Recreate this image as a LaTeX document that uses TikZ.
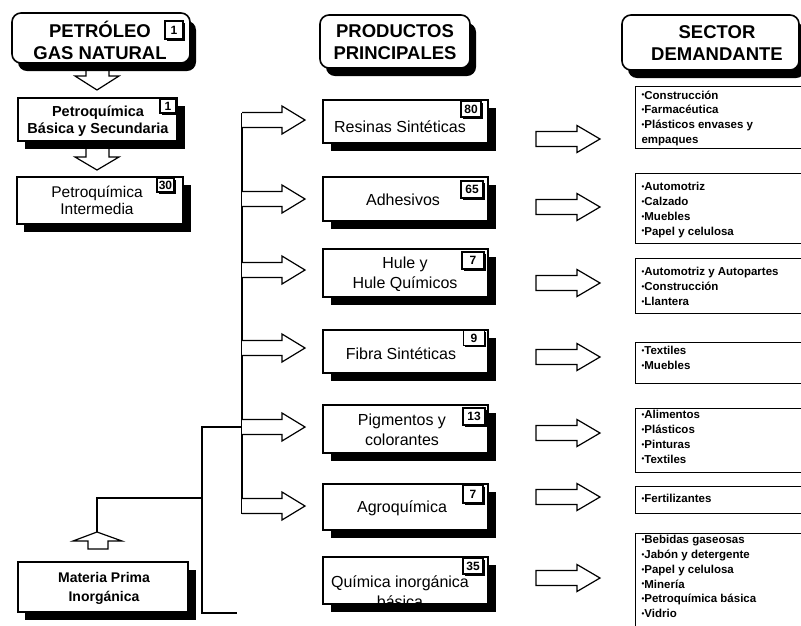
\documentclass[tikz,border=0pt]{standalone}
\usepackage{fontspec}
\setmainfont{Liberation Sans}
\usetikzlibrary{shadows}
% small bullet used in the demand lists
\newcommand\itm{\raisebox{1.2pt}{\fontsize{8}{8}\selectfont •}}
\begin{document}
\begin{tikzpicture}[x=1pt,y=-1pt,line width=1.2pt,
  hdrbox/.style={draw,line width=1.6pt,rounded corners=9pt,fill=white,anchor=north west,
    inner sep=0pt,outer sep=0pt,
    drop shadow={shadow xshift=6pt,shadow yshift=-8pt,opacity=1,fill=black}},
  shbox/.style={draw,line width=1.2pt,fill=white,anchor=north west,inner sep=0pt,outer sep=0pt,
    drop shadow={shadow xshift=8pt,shadow yshift=-8pt,opacity=1,fill=black}},
  lbox/.style={shbox,drop shadow={shadow xshift=7pt,shadow yshift=-8pt,opacity=1,fill=black}},
  pbox/.style={shbox,minimum width=165pt},
  sbox/.style={draw,line width=1.1pt,fill=white,anchor=north west,inner sep=0pt,minimum width=166pt},
  numbox/.style={draw,line width=1.1pt,fill=white,inner sep=0pt,
    font=\bfseries\fontsize{12}{12}\selectfont,
    drop shadow={shadow xshift=1.5pt,shadow yshift=-1.5pt,opacity=1,fill=black}},
  hdrtxt/.style={align=center,inner sep=0pt,font=\bfseries\fontsize{18.5}{22}\selectfont},
  ltxt/.style={align=center,inner sep=0pt,font=\fontsize{15.5}{17}\selectfont},
  ptxt/.style={align=center,inner sep=0pt,font=\fontsize{16}{20}\selectfont},
  stxt/.style={align=left,anchor=north west,inner sep=0pt,font=\bfseries\fontsize{11.5}{14.7}\selectfont},
  blk/.style={draw,fill=white,line width=1.2pt,line join=miter},
  wire/.style={draw,line width=1.2pt}]

\useasboundingbox (0,0) rectangle (801,625);

% ---------- wiring of the product column ----------
\coordinate (mtop) at (242,112.5);
\coordinate (mbot) at (242,513.5);
\coordinate (jin) at (242,427);
\coordinate (ktop) at (202,427);
\coordinate (kmid) at (202,498);
\coordinate (kbot) at (202,613);
\coordinate (kend) at (237,613);
\coordinate (ucorner) at (97,498);
\coordinate (utip) at (97,532);
\draw[wire] (mtop) -- (mbot);
\draw[wire] (jin) -- (ktop) -- (kbot) -- (kend);
\draw[wire] (kmid) -- (ucorner) -- (utip);

% block arrows leaving the main line
\foreach \c in {120,199,270,348,427,506}{
  \draw[blk] (242,\c-7.5) -- (282,\c-7.5) -- (282,\c-14) -- (305,\c)
    -- (282,\c+14) -- (282,\c+7.5) -- (242,\c+7.5);
}
% block arrows toward the demand sectors
\foreach \c in {139,207,283,357,433,497,578}{
  \draw[blk] (536,\c-7.5) -- (577,\c-7.5) -- (577,\c-13.5) -- (600,\c)
    -- (577,\c+13.5) -- (577,\c+7.5) -- (536,\c+7.5) -- cycle;
}
% down arrows of the left column and the up arrow
\draw[blk] (86,64) -- (109,64) -- (109,76) -- (119,76) -- (97,90) -- (75,76) -- (86,76) -- cycle;
\draw[blk] (86,144) -- (109,144) -- (109,157) -- (119,157) -- (97,170) -- (75,157) -- (86,157) -- cycle;
\draw[blk] (97,532) -- (122,541) -- (108,541) -- (108,549) -- (88,549) -- (88,541) -- (73,541) -- cycle;

% ---------- headers ----------
\node[hdrbox,minimum width=178pt,minimum height=50pt] (hpet) at (12,13) {};
\node[hdrtxt] (hpett) at (100,40) {PETRÓLEO\\GAS NATURAL};
\node[numbox,minimum width=18pt,minimum height=18pt] (hpetn) at (174,30) {1};

\node[hdrbox,minimum width=150pt,minimum height=53pt] (hprod) at (320,15) {};
\node[hdrtxt] (hprodt) at (395,42) {PRODUCTOS\\PRINCIPALES};

\node[hdrbox,minimum width=177pt,minimum height=55pt] (hsec) at (622,15) {};
\node[hdrtxt] (hsect) at (717,43) {SECTOR\\DEMANDANTE};

% ---------- left column ----------
\node[lbox,minimum width=159pt,minimum height=43pt] (basica) at (18,98) {};
\node[align=center,inner sep=0pt,font=\bfseries\fontsize{14.5}{17}\selectfont] (basicat) at (98,121) {Petroquímica\\Básica y Secundaria};
\node[numbox,minimum width=16pt,minimum height=14pt] (basican) at (168,106) {1};

\node[lbox,minimum width=166pt,minimum height=47pt] (interm) at (17,177) {};
\node[ltxt] (intermt) at (97,200) {Petroquímica\\Intermedia};
\node[numbox,minimum width=17pt,minimum height=14pt] (intermn) at (165.5,185) {30};

\node[lbox,minimum width=170pt,minimum height=50pt] (mprima) at (18,562) {};
\node[align=center,inner sep=0pt,font=\bfseries\fontsize{14}{19}\selectfont] (mprimat) at (104,588) {Materia Prima\\Inorgánica};

% ---------- products ----------
\node[pbox,minimum height=43pt] (res) at (323,100) {};
\node[ptxt] (rest) at (400,127) {Resinas Sintéticas};
\node[numbox,minimum width=20pt,minimum height=16pt] (resn) at (471,109) {80};

\node[pbox,minimum height=44pt] (adh) at (323,177) {};
\node[ptxt] (adht) at (403,200) {Adhesivos};
\node[numbox,minimum width=22pt,minimum height=17pt] (adhn) at (472,189.5) {65};

\node[pbox,minimum height=48pt] (hule) at (323,249) {};
\node[ptxt] (hulet) at (405,274) {Hule y\\Hule Químicos};
\node[numbox,minimum width=22pt,minimum height=17pt] (hulen) at (473,260.5) {7};

\node[pbox,minimum height=43pt] (fibra) at (323,330) {};
\node[ptxt] (fibrat) at (401,354) {Fibra Sintéticas};
\node[numbox,minimum width=21pt,minimum height=15pt] (fibran) at (474,338) {9};

\node[pbox,minimum height=48pt] (pigm) at (323,405) {};
\node[ptxt] (pigmt) at (402,430) {Pigmentos y\\colorantes};
\node[numbox,minimum width=22pt,minimum height=17pt] (pigmn) at (474,416.5) {13};

\node[pbox,minimum height=46pt] (agro) at (323,484) {};
\node[ptxt] (agrot) at (402,508) {Agroquímica};
\node[numbox,minimum width=20pt,minimum height=18pt] (agron) at (473,494) {7};

\node[pbox,minimum height=47pt] (quim) at (323,557) {};
\node[ptxt] (quimt) at (400,592) {Química inorgánica\\básica};
\node[numbox,minimum width=20pt,minimum height=16pt] (quimn) at (473,566) {35};

% ---------- demand sectors ----------
\node[sbox,minimum height=62pt] (s1) at (635,86) {};
\node[stxt] (s1t) at (641,90) {\itm Construcción\\\itm Farmacéutica\\\itm Plásticos envases y\\empaques};

\node[sbox,minimum height=70pt] (s2) at (635,173) {};
\node[stxt] (s2t) at (641,182) {\itm Automotriz\\\itm Calzado\\\itm Muebles\\\itm Papel y celulosa};

\node[sbox,minimum height=55pt] (s3) at (635,258) {};
\node[stxt] (s3t) at (641,267) {\itm Automotriz y Autopartes\\\itm Construcción\\\itm Llantera};

\node[sbox,minimum height=41pt] (s4) at (635,342) {};
\node[stxt] (s4t) at (641,346) {\itm Textiles\\\itm Muebles};

\node[sbox,minimum height=64pt] (s5) at (635,408) {};
\node[stxt] (s5t) at (641,410) {\itm Alimentos\\\itm Plásticos\\\itm Pinturas\\\itm Textiles};

\node[sbox,minimum height=27pt] (s6) at (635,486) {};
\node[stxt] (s6t) at (641,494) {\itm Fertilizantes};

\node[sbox,minimum height=97pt] (s7) at (635,533) {};
\node[stxt] (s7t) at (641,535) {\itm Bebidas gaseosas\\\itm Jabón y detergente\\\itm Papel y celulosa\\\itm Minería\\\itm Petroquímica básica\\\itm Vidrio};

\end{tikzpicture}
\end{document}
